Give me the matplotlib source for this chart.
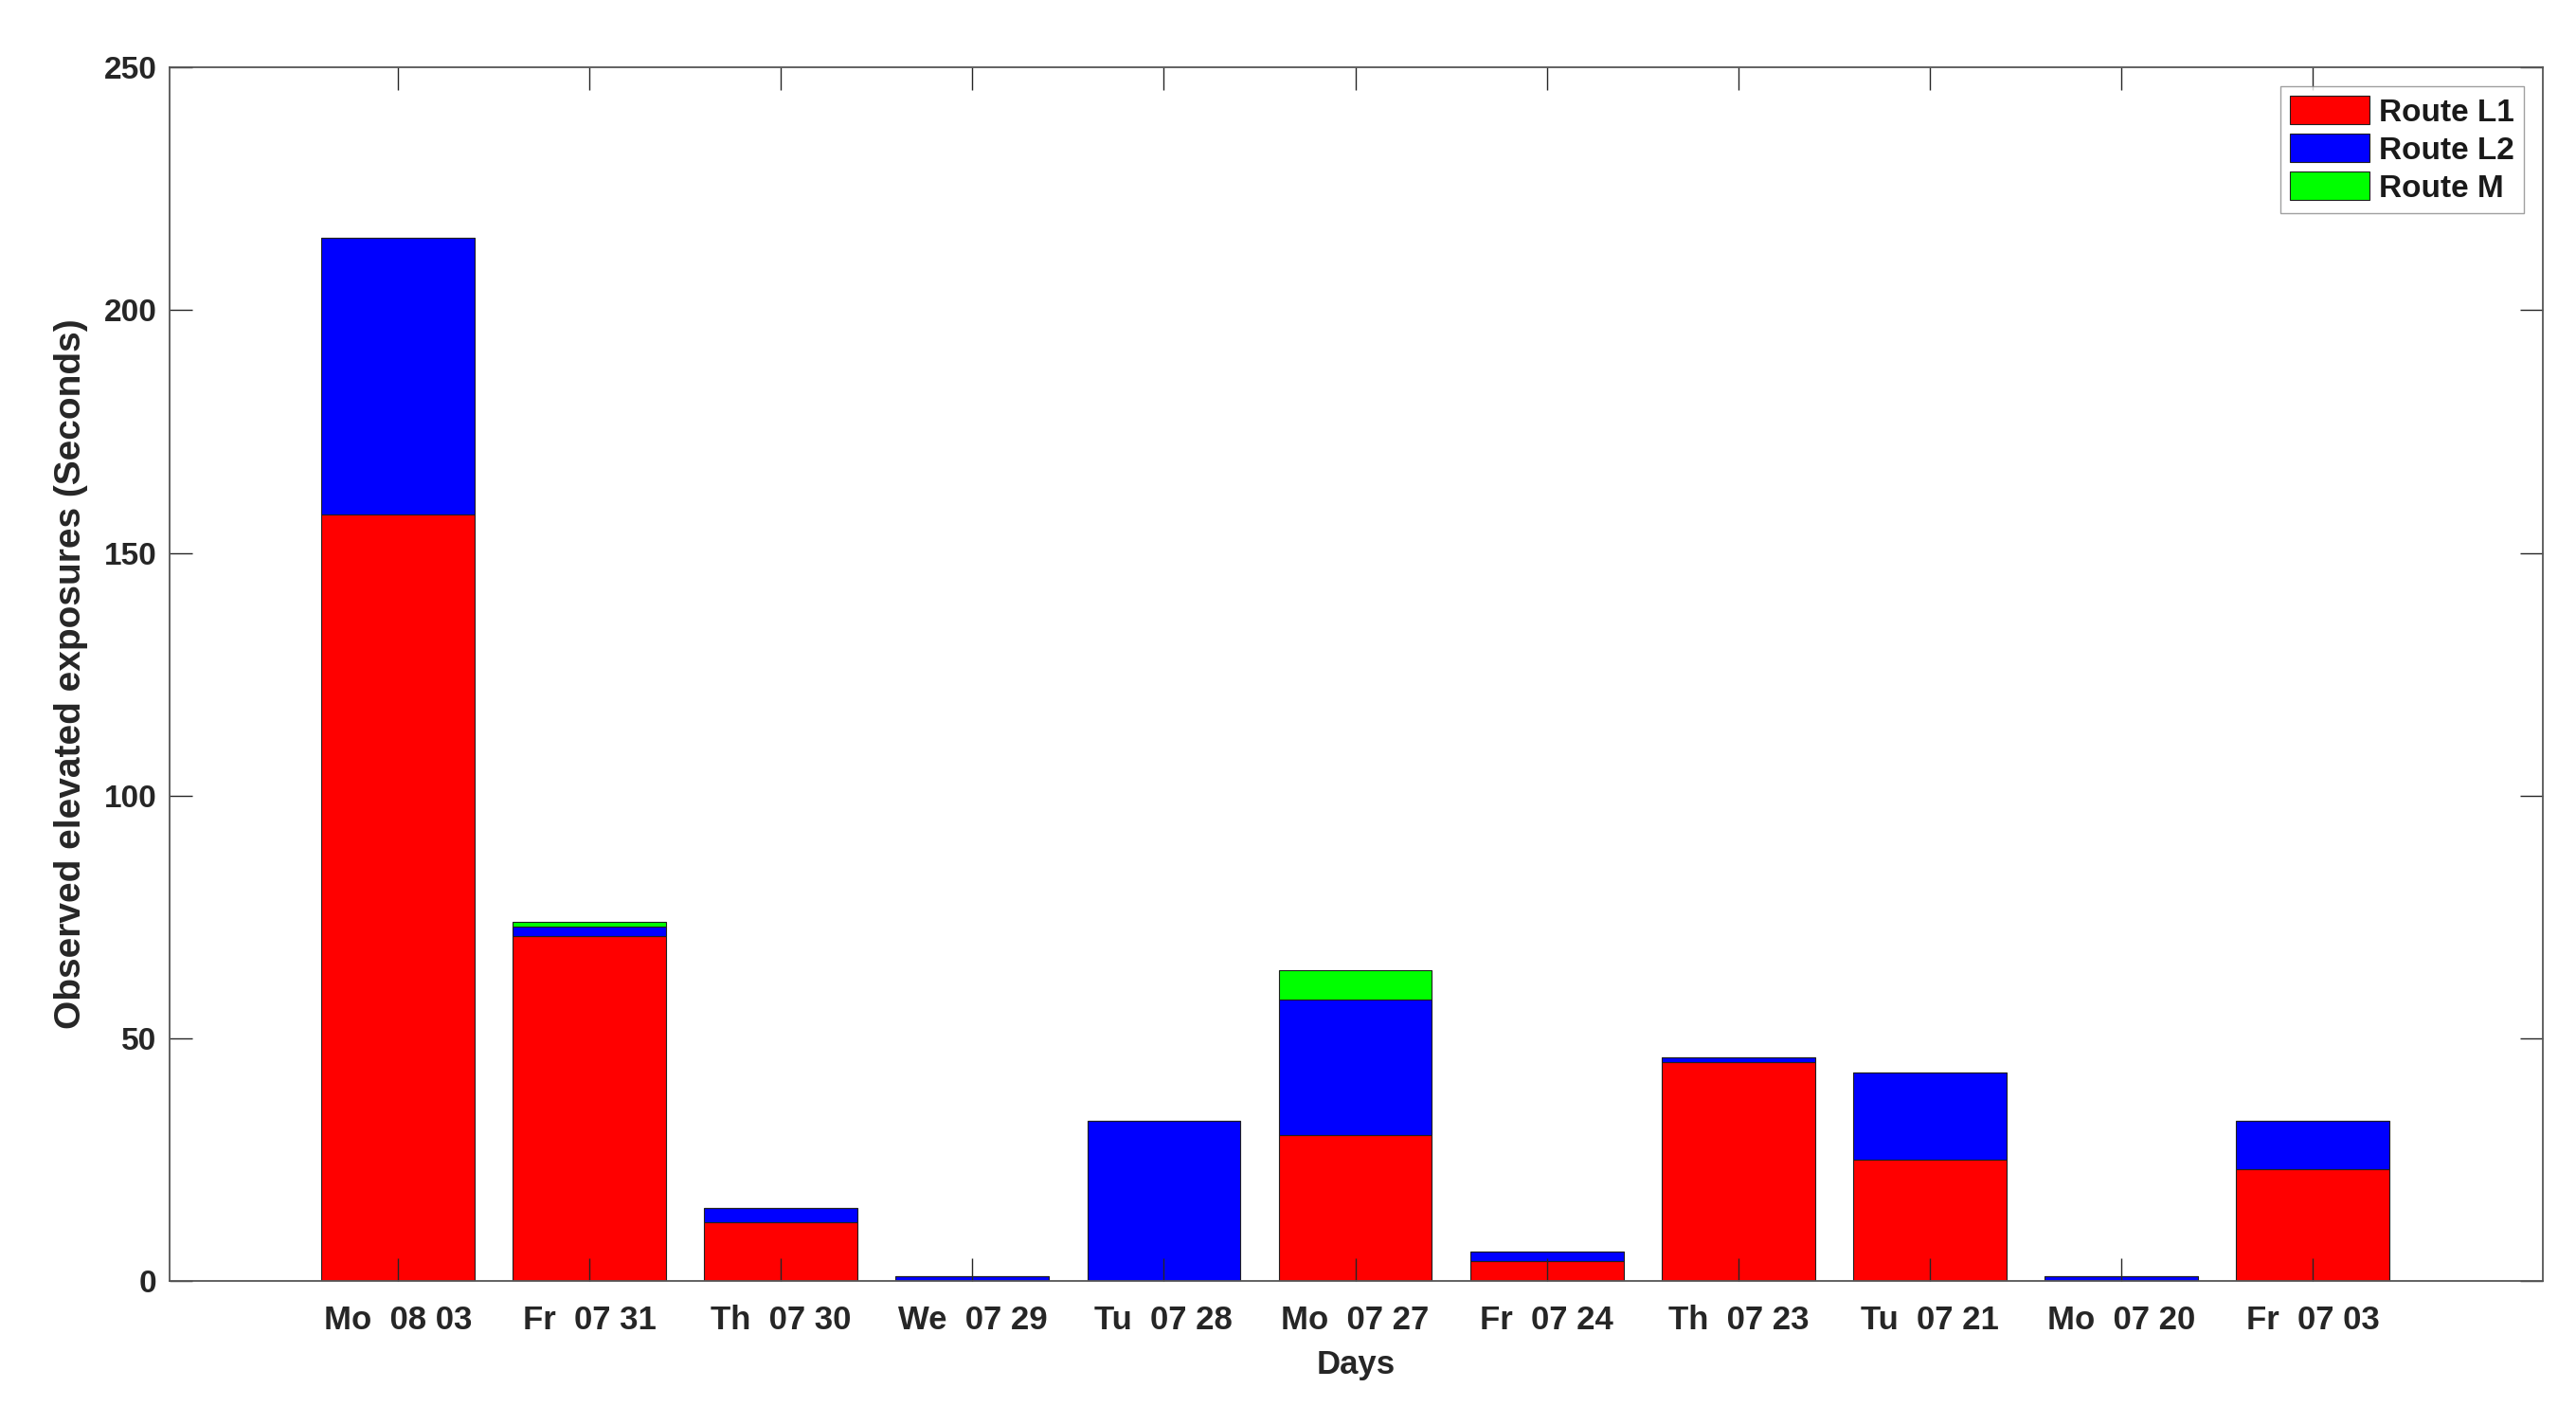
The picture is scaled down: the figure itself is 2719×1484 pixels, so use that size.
import matplotlib.pyplot as plt
import numpy as np

days = ['Mo  08 03', 'Fr  07 31', 'Th  07 30', 'We  07 29', 'Tu  07 28', 'Mo  07 27',
        'Fr  07 24', 'Th  07 23', 'Tu  07 21', 'Mo  07 20', 'Fr  07 03']
route_l1 = [158, 71, 12, 0, 0, 30, 4, 45, 25, 0, 23]
route_l2 = [57, 2, 3, 1, 33, 28, 2, 1, 18, 1, 10]
route_m = [0, 1, 0, 0, 0, 6, 0, 0, 0, 0, 0]

plt.rcParams['font.family'] = ['Liberation Sans', 'DejaVu Sans']
plt.rcParams['font.weight'] = 'bold'

fig = plt.figure(figsize=(27.19, 14.84), dpi=100)
ax = fig.add_axes([0.066, 0.089, 0.921, 0.863])

x = np.arange(1, len(days) + 1)
l1 = np.array(route_l1)
l2 = np.array(route_l2)
m = np.array(route_m)

ax.bar(x, l1, 0.8, color='#ff0000', edgecolor='#202020', linewidth=0.8, label='Route L1')
ax.bar(x, l2, 0.8, bottom=l1, color='#0000ff', edgecolor='#202020', linewidth=0.8, label='Route L2')
ax.bar(x, m, 0.8, bottom=l1 + l2, color='#00ff00', edgecolor='#202020', linewidth=0.8, label='Route M')

ax.set_xlim(-0.19, 12.2)
ax.set_ylim(0, 250)
ax.set_xticks(x)
ax.set_xticklabels(days)
ax.set_yticks([0, 50, 100, 150, 200, 250])
ax.tick_params(direction='in', top=True, right=True, length=17, width=1.0,
               color='#262626', labelcolor='#262626')
ax.tick_params(axis='x', labelsize=25, pad=18)
ax.tick_params(axis='y', labelsize=24, pad=10)
for lab in ax.get_xticklabels() + ax.get_yticklabels():
    lab.set_fontweight('bold')
for s in ax.spines.values():
    s.set_color('#555555')
    s.set_linewidth(1.3)

ax.set_xlabel('Days', fontsize=25, fontweight='bold', color='#262626', labelpad=10)
ax.set_ylabel('Observed elevated exposures (Seconds)', fontsize=28, fontweight='bold',
              color='#262626', labelpad=12)

leg = ax.legend(loc='upper right', fontsize=24, frameon=True, fancybox=False,
                edgecolor='#888888', borderaxespad=0.6, handlelength=2.5, handleheight=1.0,
                handletextpad=0.3, labelspacing=0.2, borderpad=0.3)
for t in leg.get_texts():
    t.set_fontweight('bold')
    t.set_color('#1a1a1a')

fig.savefig('out.png', dpi=100)
